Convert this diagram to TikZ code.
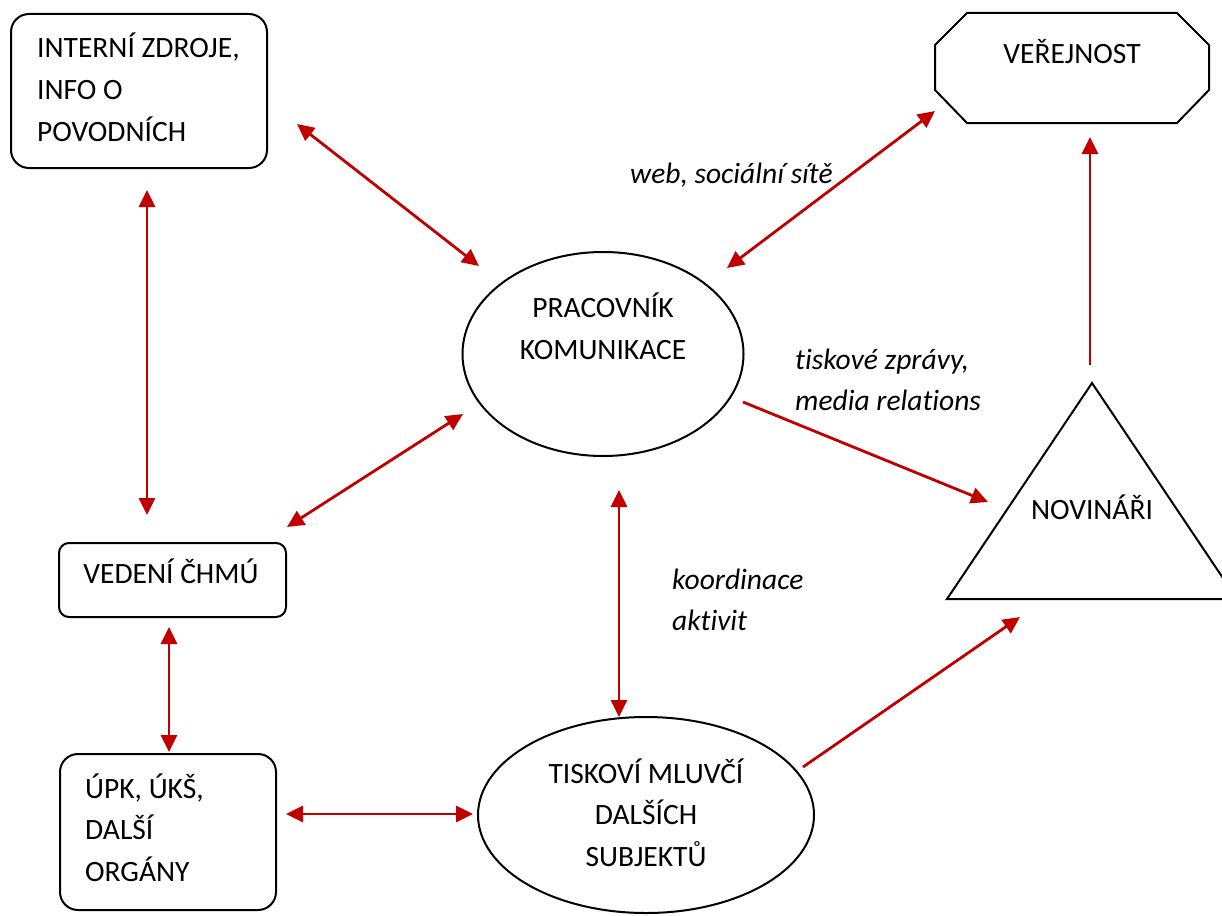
\documentclass[tikz,border=0pt]{standalone}
\usepackage{fontspec}
\setmainfont{Carlito}[Ligatures={NoCommon}]
\usetikzlibrary{shapes.geometric,arrows.meta}
\definecolor{arrred}{RGB}{192,0,0}
\begin{document}
\begin{tikzpicture}[x=1pt,y=-1pt,
  outline/.style={draw=black, line width=2pt},
  rbox/.style={outline, rectangle, rounded corners=18pt, anchor=north west, inner sep=0},
  oval/.style={outline, ellipse, inner sep=0},
  txt/.style={font=\fontsize{29.5}{41.5}\selectfont, inner sep=0, align=left},
  lbl/.style={inner sep=0, align=left, font=\fontsize{29.5}{41}\selectfont\itshape},
  link/.style={draw=arrred, line width=2.8pt, -{Triangle[length=17pt,width=16pt]}},
  dlink/.style={draw=arrred, line width=2.8pt, {Triangle[length=17pt,width=16pt]}-{Triangle[length=17pt,width=16pt]}}
]
\useasboundingbox (0,0) rectangle (1222,915);

% shapes
\node[rbox, minimum width=256pt, minimum height=154pt] (int) at (10,13) {};
\node[rbox, rounded corners=10pt, minimum width=227pt, minimum height=74pt] (ved) at (58,542) {};
\node[rbox, minimum width=216pt, minimum height=156pt] (upk) at (59,753) {};
\node[oval, minimum width=281pt, minimum height=204pt] (prac) at (603,354) {};
\node[oval, minimum width=336pt, minimum height=196pt] (tisk) at (646,815) {};
\draw[outline] (967,13) -- (1177,13) -- (1209,45) -- (1209,90) -- (1177,123) -- (967,123) -- (935,90) -- (935,45) -- cycle;
\begin{scope}
\clip (0,0) rectangle (1222,915);
\draw[outline] (1092,383) -- (1237,599) -- (947,599) -- cycle;
\end{scope}

% texts (anchor base = baseline of the last line)
\node[txt, anchor=base west] (intT) at (37,141) {INTERNÍ ZDROJE,\\INFO O\\POVODNÍCH};
\node[txt, anchor=base] (vedT) at (171,583) {VEDENÍ ČHMÚ};
\node[txt, anchor=base west] (upkT) at (85,881) {ÚPK, ÚKŠ,\\DALŠÍ\\ORGÁNY};
\node[txt, anchor=base, align=center] (pracT) at (603,359) {PRACOVNÍK\\KOMUNIKACE};
\node[txt, anchor=base, align=center] (tiskT) at (646,866) {TISKOVÍ MLUVČÍ\\DALŠÍCH\\SUBJEKTŮ};
\node[txt, anchor=base] (verT) at (1072,64) {VEŘEJNOST};
\node[txt, anchor=base] (novT) at (1092,519) {NOVINÁŘI};
\node[lbl, anchor=base west] (webL) at (630,183) {web, sociální sítě};
\node[lbl, anchor=base west] (tzL) at (795,410) {tiskové zprávy,\\media relations};
\node[lbl, anchor=base west] (koL) at (672,630) {koordinace\\aktivit};

% connector end points
\coordinate (a1) at (297,124); \coordinate (a2) at (479,266);
\coordinate (b1) at (727,268); \coordinate (b2) at (935,111);
\coordinate (c1) at (287,527); \coordinate (c2) at (463,414);
\coordinate (d1) at (147,190); \coordinate (d2) at (147,515);
\coordinate (e1) at (169,627); \coordinate (e2) at (169,752);
\coordinate (f1) at (286,814); \coordinate (f2) at (473,814);
\coordinate (g1) at (619,490); \coordinate (g2) at (619,717);
\coordinate (h1) at (743,402); \coordinate (h2) at (988,502);
\coordinate (i1) at (803,767); \coordinate (i2) at (1020,617);
\coordinate (j1) at (1090,365); \coordinate (j2) at (1090,137);

\draw[dlink] (a1) -- (a2);
\draw[dlink] (b1) -- (b2);
\draw[dlink] (c1) -- (c2);
\draw[dlink] (d1) -- (d2);
\draw[dlink] (e1) -- (e2);
\draw[dlink] (f1) -- (f2);
\draw[dlink] (g1) -- (g2);
\draw[link] (h1) -- (h2);
\draw[link] (i1) -- (i2);
\draw[link] (j1) -- (j2);
\end{tikzpicture}
\end{document}
